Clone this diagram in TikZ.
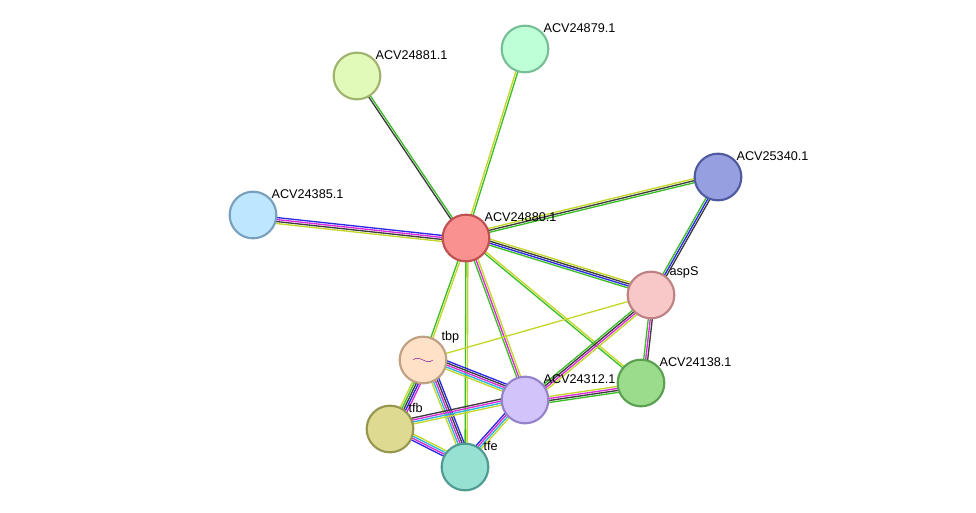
\documentclass[tikz,border=0pt]{standalone}
\usepackage{fontspec}
\setmainfont{Liberation Sans}
\usetikzlibrary{calc}
\definecolor{sgreen}{RGB}{60,190,40}
\definecolor{syellow}{RGB}{195,215,40}
\definecolor{sblue}{RGB}{40,40,230}
\definecolor{smag}{RGB}{220,40,220}
\definecolor{scyan}{RGB}{40,180,220}
\definecolor{sblack}{RGB}{60,60,60}
\tikzset{
  prot/.style={circle,draw,line width=1.6pt,minimum size=35pt,inner sep=0pt},
  lab/.style={anchor=south west,font=\fontsize{9.5pt}{11pt}\selectfont,inner sep=1pt},
}
% edge with parallel coloured strands
\newcommand{\evid}[3]{%
  \foreach \c [count=\k] in {#3}{%
    \pgfmathsetmacro{\off}{(\k-1)*1.5}
    \draw[\c,line width=1pt] ($(#1)!\off pt!90:(#2)$) -- ($(#2)!\off pt!-90:(#1)$);
  }}
\begin{document}
\begin{tikzpicture}[x=0.75pt,y=-0.75pt]
  \useasboundingbox (0,0) rectangle (976,513);
  %coordinates of the proteins
  \coordinate (c880) at (466,238);
  \coordinate (c879) at (525,49);
  \coordinate (c881) at (357,76);
  \coordinate (c340) at (718,177);
  \coordinate (c385) at (253,215);
  \coordinate (casp) at (651,295);
  \coordinate (c138) at (641,383);
  \coordinate (c312) at (525,400);
  \coordinate (ctbp) at (423,360);
  \coordinate (ctfb) at (390,429);
  \coordinate (ctfe) at (465,467);
  %edges
  \evid{c880}{c879}{sgreen,syellow}
  \evid{c880}{c881}{sgreen,sblack}
  \evid{c880}{c340}{sgreen,sblack,syellow}
  \evid{c880}{c385}{sblue,smag,sblack,syellow}
  \evid{c880}{casp}{sgreen,sblue,sblack,syellow}
  \evid{c880}{c138}{sgreen,syellow}
  \evid{c880}{c312}{sgreen,smag,syellow}
  \evid{c880}{ctbp}{sgreen,syellow}
  \evid{c880}{ctfe}{sgreen,syellow}
  \evid{c340}{casp}{sgreen,sblue,sblack}
  \evid{casp}{c138}{sgreen,smag,sblack}
  \evid{casp}{c312}{sgreen,sblack,smag,syellow}
  \evid{casp}{ctbp}{syellow}
  \evid{c138}{c312}{syellow,smag,sblack,sgreen}
  \evid{ctbp}{c312}{syellow,scyan,smag,sblack,sblue}
  \evid{ctbp}{ctfb}{syellow,sgreen,sblack,sblue,smag}
  \evid{ctbp}{ctfe}{syellow,scyan,smag,sblack,sblue}
  \evid{ctfb}{c312}{syellow,scyan,smag,sblack}
  \evid{ctfb}{ctfe}{sblue,smag,scyan,syellow}
  \evid{ctfe}{c312}{syellow,scyan,smag,sblue}
  %proteins
  \node[prot,draw={rgb,255:red,190;green,80;blue,80},fill={rgb,255:red,250;green,145;blue,145}] (p880) at (c880) {};
  \node[prot,draw={rgb,255:red,120;green,190;blue,150},fill={rgb,255:red,190;green,255;blue,215}] (p879) at (c879) {};
  \node[prot,draw={rgb,255:red,160;green,180;blue,110},fill={rgb,255:red,225;green,250;blue,185}] (p881) at (c881) {};
  \node[prot,draw={rgb,255:red,80;green,90;blue,160},fill={rgb,255:red,150;green,160;blue,225}] (p340) at (c340) {};
  \node[prot,draw={rgb,255:red,120;green,160;blue,190},fill={rgb,255:red,190;green,230;blue,255}] (p385) at (c385) {};
  \node[prot,draw={rgb,255:red,190;green,130;blue,130},fill={rgb,255:red,248;green,200;blue,200}] (pasp) at (casp) {};
  \node[prot,draw={rgb,255:red,90;green,160;blue,80},fill={rgb,255:red,155;green,220;blue,140}] (p138) at (c138) {};
  \node[prot,draw={rgb,255:red,150;green,130;blue,200},fill={rgb,255:red,210;green,195;blue,250}] (p312) at (c312) {};
  \node[prot,draw={rgb,255:red,190;green,160;blue,130},fill={rgb,255:red,255;green,225;blue,200}] (ptbp) at (ctbp) {};
  \node[prot,draw={rgb,255:red,150;green,150;blue,80},fill={rgb,255:red,222;green,218;blue,145}] (ptfb) at (ctfb) {};
  \node[prot,draw={rgb,255:red,80;green,155;blue,145},fill={rgb,255:red,150;green,225;blue,210}] (ptfe) at (ctfe) {};
  \draw[smag!70!black,line width=0.4pt] ($(ctbp)+(-10,0)$) .. controls ($(ctbp)+(-3,-6)$) and ($(ctbp)+(3,6)$) .. ($(ctbp)+(10,0)$);
  %labels
  \node[lab] at ($(c880)+(17,-15)$) {ACV24880.1};
  \node[lab] at ($(c879)+(17,-15)$) {ACV24879.1};
  \node[lab] at ($(c881)+(17,-15)$) {ACV24881.1};
  \node[lab] at ($(c340)+(17,-15)$) {ACV25340.1};
  \node[lab] at ($(c385)+(17,-15)$) {ACV24385.1};
  \node[lab] at ($(casp)+(17,-15)$) {aspS};
  \node[lab] at ($(c138)+(17,-15)$) {ACV24138.1};
  \node[lab] at ($(c312)+(17,-15)$) {ACV24312.1};
  \node[lab] at ($(ctbp)+(17,-15)$) {tbp};
  \node[lab] at ($(ctfb)+(17,-15)$) {tfb};
  \node[lab] at ($(ctfe)+(17,-15)$) {tfe};
\end{tikzpicture}
\end{document}
